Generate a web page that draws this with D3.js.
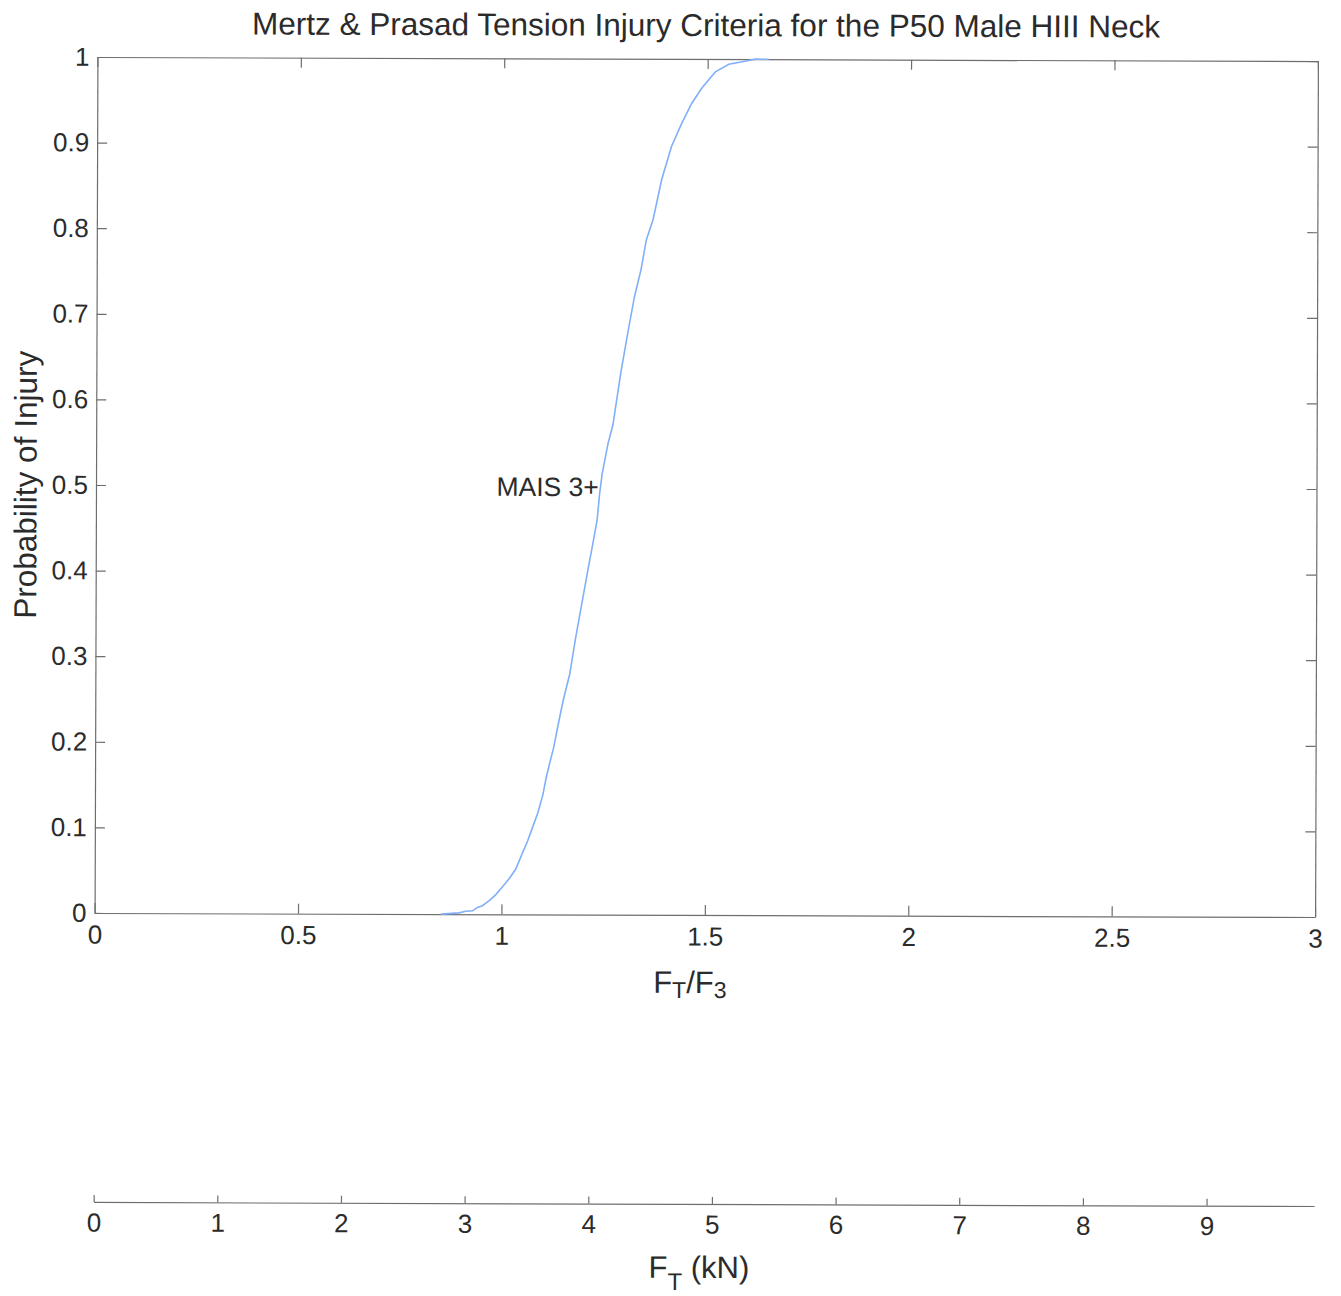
<!DOCTYPE html>
<html>
<head>
<meta charset="utf-8">
<script src="https://cdn.jsdelivr.net/npm/d3@7"></script>
<style>
	body { margin: 0; background: #fff; }
	text { font-family: "Liberation Sans", Arial, sans-serif; fill: #2b2b2b; }
</style>
</head>
<body>
<svg></svg>
<script>
const size = { w: 1341, h: 1296 };
const plot = { l: 95.5, r: 1316, t: 59, b: 915 };
const kNAxisY = 1204;
const svg = d3.select("svg");
svg.attr("width", size.w).attr("height", size.h);

// curve: ratio F_T/F_3 -> probability of injury
const ratio = [0.851, 0.896, 0.912, 0.929, 0.941, 0.953, 0.970, 0.986, 1.002, 1.019,
	1.035, 1.048, 1.064, 1.076, 1.089, 1.101, 1.109, 1.117, 1.127, 1.138,
	1.150, 1.166, 1.179, 1.195, 1.211, 1.220, 1.232, 1.238, 1.244, 1.258,
	1.270, 1.289, 1.306, 1.322, 1.338, 1.351, 1.367, 1.388, 1.412, 1.437,
	1.461, 1.486, 1.519, 1.552, 1.585, 1.617, 1.650];
const prob = [0, 0.0015, 0.0035, 0.004, 0.008, 0.010, 0.016, 0.023, 0.032, 0.042,
	0.053, 0.068, 0.086, 0.102, 0.119, 0.140, 0.160, 0.176, 0.195, 0.222,
	0.250, 0.281, 0.320, 0.363, 0.406, 0.429, 0.461, 0.492, 0.515, 0.550,
	0.572, 0.633, 0.680, 0.722, 0.754, 0.789, 0.812, 0.859, 0.898, 0.925,
	0.948, 0.966, 0.985, 0.994, 0.997, 1.0, 1.0];

const xTicks = [0, 0.5, 1, 1.5, 2, 2.5, 3];
const yTicks = [0, 0.1, 0.2, 0.3, 0.4, 0.5, 0.6, 0.7, 0.8, 0.9, 1];
const kNTicks = [0, 1, 2, 3, 4, 5, 6, 7, 8, 9];
const kNMax = 9.87; // 3 * F_3 (3.29 kN)

const title = "Mertz & Prasad Tension Injury Criteria for the P50 Male HIII Neck";
const curveLabel = "MAIS 3+";
const labelAt = { x: 1.236, y: 0.5 };

// the scan is tilted a little
let g = svg.append("g").attr("transform", "rotate(0.19, 706, 640)");

let x = d3.scaleLinear().domain([0, 3]).range([plot.l, plot.r]);
let y = d3.scaleLinear().domain([0, 1]).range([plot.b, plot.t]);
let xkN = d3.scaleLinear().domain([0, kNMax]).range([plot.l, plot.r]);

drawAxes(g);
drawCurve(g);
drawLabels(g);

function styleAxis(sel) {
	sel.selectAll("path, line").attr("stroke", "#6e6e6e").attr("stroke-width", 1.2);
	sel.selectAll("text")
		.style("font-family", '"Liberation Sans", Arial, sans-serif')
		.style("font-size", "26px")
		.attr("fill", "#2b2b2b");
}

function drawAxes(g) {
	g.append("g").attr("transform", `translate(0,${plot.b})`)
		.call(d3.axisBottom(x).tickValues(xTicks).tickFormat(d3.format("")).tickSize(-10).tickSizeOuter(0).tickPadding(12))
		.call(styleAxis);
	g.append("g").attr("transform", `translate(0,${plot.t})`)
		.call(d3.axisTop(x).tickValues(xTicks).tickFormat("").tickSize(-10).tickSizeOuter(0))
		.call(styleAxis);
	g.append("g").attr("transform", `translate(${plot.l},0)`)
		.call(d3.axisLeft(y).tickValues(yTicks).tickFormat(d3.format("")).tickSize(-10).tickSizeOuter(0).tickPadding(8))
		.call(styleAxis);
	g.append("g").attr("transform", `translate(${plot.r},0)`)
		.call(d3.axisRight(y).tickValues(yTicks).tickFormat("").tickSize(-10).tickSizeOuter(0))
		.call(styleAxis);

	// second scale in kN
	g.append("g").attr("transform", `translate(0,${kNAxisY})`)
		.call(d3.axisBottom(xkN).tickValues(kNTicks).tickFormat(d3.format("")).tickSize(-7).tickSizeOuter(0).tickPadding(11))
		.call(styleAxis);
}

function drawCurve(g) {
	let pts = ratio.map((r, i) => [r, prob[i]]);
	let line = d3.line().x((d) => x(d[0])).y((d) => y(d[1]));
	g.append("path")
		.datum(pts)
		.attr("d", line)
		.attr("fill", "none")
		.attr("stroke", "#80b0f8")
		.attr("stroke-width", 1.6);
}

function drawLabels(g) {
	g.append("text")
		.attr("x", 704).attr("y", 36)
		.attr("text-anchor", "middle")
		.style("font-size", "31.5px")
		.text(title);

	g.append("text")
		.attr("x", x(labelAt.x)).attr("y", y(labelAt.y))
		.attr("dy", "0.36em")
		.attr("text-anchor", "end")
		.style("font-size", "26.5px")
		.text(curveLabel);

	g.append("text")
		.attr("transform", "translate(36,487) rotate(-90)")
		.attr("text-anchor", "middle")
		.style("font-size", "31.5px")
		.text("Probability of Injury");

	// F_T/F_3
	let xl = g.append("text")
		.attr("x", 691).attr("y", 993)
		.attr("text-anchor", "middle")
		.style("font-size", "31px");
	xl.append("tspan").text("F");
	xl.append("tspan").attr("dy", 5).style("font-size", "23px").text("T");
	xl.append("tspan").attr("dy", -5).text("/F");
	xl.append("tspan").attr("dy", 5).style("font-size", "23px").text("3");

	// F_T (kN)
	let kl = g.append("text")
		.attr("x", 701).attr("y", 1278)
		.attr("text-anchor", "middle")
		.style("font-size", "31px");
	kl.append("tspan").text("F");
	kl.append("tspan").attr("dy", 12).style("font-size", "24px").text("T");
	kl.append("tspan").attr("dy", -12).text(" (kN)");
}
</script>
</body>
</html>
